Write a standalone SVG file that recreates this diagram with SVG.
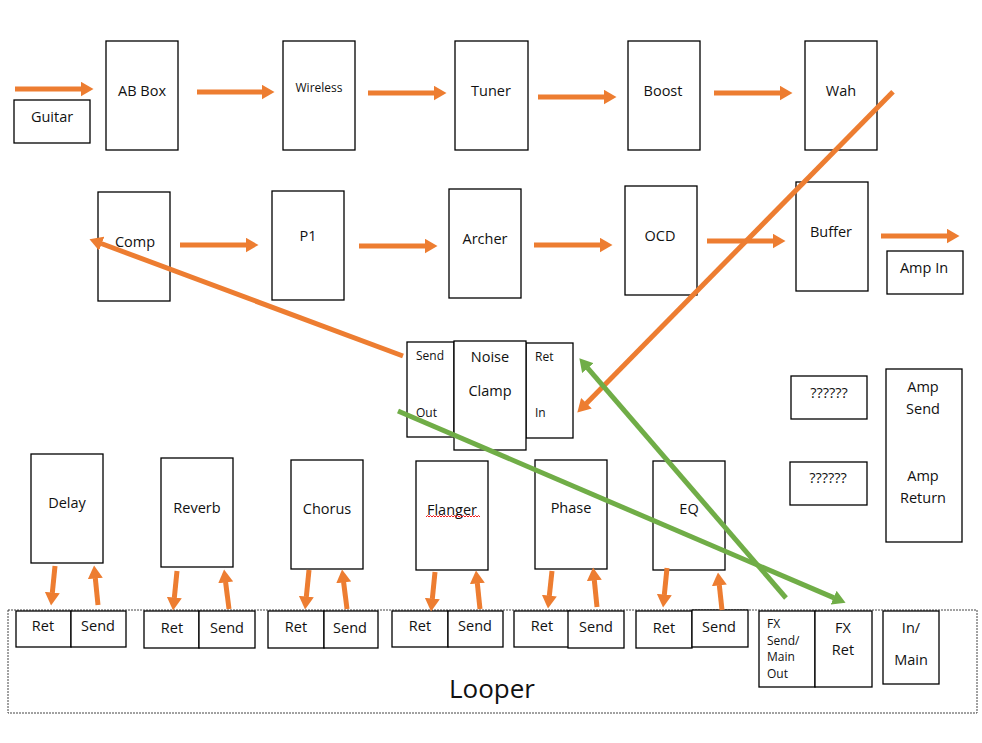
<svg xmlns="http://www.w3.org/2000/svg" width="982" height="743" viewBox="0 0 982 743">
<style>
.b{fill:#fff;stroke:#000;stroke-width:1.3}
.t{font-family:"Open Sans","Noto Sans",sans-serif;font-size:14.5px;fill:#111;text-anchor:middle}
.s{font-size:12px}
.l{text-anchor:start}
.o{stroke:#ED7D31;stroke-width:5;fill:none}
.g{stroke:#70AD47;stroke-width:5;fill:none}
</style>
<defs>
<marker id="ao" viewBox="0 0 13 15" markerWidth="13" markerHeight="15" markerUnits="userSpaceOnUse" refX="0.5" refY="7.5" orient="auto"><path d="M0,0 L13,7.5 L0,15 z" fill="#ED7D31"/></marker>
<marker id="ag" viewBox="0 0 13 15" markerWidth="13" markerHeight="15" markerUnits="userSpaceOnUse" refX="0.5" refY="7.5" orient="auto"><path d="M0,0 L13,7.5 L0,15 z" fill="#70AD47"/></marker>
</defs>
<rect width="982" height="743" fill="#fff"/>

<g id="looper">
<rect x="8" y="610" width="969" height="103" fill="#fff" stroke="#444" stroke-width="1" stroke-dasharray="2 1"/>
<text class="t" x="492" y="698" style="font-size:26px">Looper</text>
</g>

<g id="guitar"><rect class="b" x="14" y="100" width="76" height="43"/><text class="t" x="52" y="122">Guitar</text></g>
<g id="abbox"><rect class="b" x="106" y="41" width="72" height="109"/><text class="t" x="142" y="96">AB Box</text></g>
<g id="wireless"><rect class="b" x="283" y="41" width="72" height="109"/><text class="t s" x="319" y="92">Wireless</text></g>
<g id="tuner"><rect class="b" x="455" y="41" width="73" height="109"/><text class="t" x="491" y="96">Tuner</text></g>
<g id="boost"><rect class="b" x="628" y="41" width="72" height="109"/><text class="t" x="663" y="96">Boost</text></g>
<g id="wah"><rect class="b" x="805" y="41" width="72" height="109"/><text class="t" x="841" y="96">Wah</text></g>

<g id="comp"><rect class="b" x="98" y="192" width="72" height="109"/><text class="t" x="135" y="247">Comp</text></g>
<g id="p1"><rect class="b" x="272" y="191" width="72" height="109"/><text class="t" x="308" y="241">P1</text></g>
<g id="archer"><rect class="b" x="449" y="189" width="72" height="109"/><text class="t" x="485" y="244">Archer</text></g>
<g id="ocd"><rect class="b" x="625" y="186" width="72" height="109"/><text class="t" x="660" y="241">OCD</text></g>
<g id="buffer"><rect class="b" x="796" y="182" width="72" height="109"/><text class="t" x="831" y="237">Buffer</text></g>
<g id="ampin"><rect class="b" x="887" y="251" width="76" height="43"/><text class="t" x="924" y="273">Amp In</text></g>

<g id="noiseclamp">
<rect class="b" x="407" y="342" width="47" height="95"/>
<rect class="b" x="526" y="343" width="47" height="95"/>
<rect class="b" x="454" y="341" width="72" height="109"/>
<text class="t s l" x="416" y="360">Send</text>
<text class="t s l" x="416" y="417">Out</text>
<text class="t s l" x="535" y="361">Ret</text>
<text class="t s l" x="535" y="417">In</text>
<text class="t" x="490" y="362">Noise</text>
<text class="t" x="490" y="396">Clamp</text>
</g>

<g id="unknown1"><rect class="b" x="791" y="376" width="76" height="43"/><text class="t" x="829" y="398">??????</text></g>
<g id="unknown2"><rect class="b" x="790" y="462" width="77" height="43"/><text class="t" x="828" y="483">??????</text></g>
<g id="amp"><rect class="b" x="886" y="369" width="76" height="173"/>
<text class="t" x="923" y="392">Amp</text><text class="t" x="923" y="414">Send</text>
<text class="t" x="923" y="481">Amp</text><text class="t" x="923" y="503">Return</text></g>

<g id="delay"><rect class="b" x="31" y="454" width="72" height="109"/><text class="t" x="67" y="508">Delay</text></g>
<g id="reverb"><rect class="b" x="161" y="458" width="72" height="109"/><text class="t" x="197" y="513">Reverb</text></g>
<g id="chorus"><rect class="b" x="291" y="460" width="72" height="109"/><text class="t" x="327" y="514">Chorus</text></g>
<g id="flanger"><rect class="b" x="416" y="461" width="72" height="109"/><text class="t" x="452" y="515">Flanger</text>
<path d="M426,517 l1.5,-1.5 l1.5,1.5 l1.5,-1.5 l1.5,1.5 l1.5,-1.5 l1.5,1.5 l1.5,-1.5 l1.5,1.5 l1.5,-1.5 l1.5,1.5 l1.5,-1.5 l1.5,1.5 l1.5,-1.5 l1.5,1.5 l1.5,-1.5 l1.5,1.5 l1.5,-1.5 l1.5,1.5 l1.5,-1.5 l1.5,1.5 l1.5,-1.5 l1.5,1.5 l1.5,-1.5 l1.5,1.5 l1.5,-1.5 l1.5,1.5 l1.5,-1.5 l1.5,1.5 l1.5,-1.5 l1.5,1.5 l1.5,-1.5 l1.5,1.5 l1.5,-1.5 l1.5,1.5 l1.5,-1.5 l1.5,1.5" fill="none" stroke="#e00" stroke-width="0.9"/></g>
<g id="phase"><rect class="b" x="535" y="460" width="72" height="109"/><text class="t" x="571" y="513">Phase</text></g>
<g id="eq"><rect class="b" x="653" y="461" width="72" height="109"/><text class="t" x="689" y="514">EQ</text></g>

<g id="delay-io"><rect class="b" x="16" y="611" width="55" height="36"/><rect class="b" x="71" y="611" width="55" height="36"/><text class="t" x="43" y="631">Ret</text><text class="t" x="98" y="631">Send</text></g>
<g id="reverb-io"><rect class="b" x="144" y="611" width="55" height="37"/><rect class="b" x="199" y="611" width="56" height="37"/><text class="t" x="172" y="633">Ret</text><text class="t" x="227" y="633">Send</text></g>
<g id="chorus-io"><rect class="b" x="268" y="611" width="56" height="37"/><rect class="b" x="324" y="611" width="54" height="37"/><text class="t" x="296" y="632">Ret</text><text class="t" x="350" y="633">Send</text></g>
<g id="flanger-io"><rect class="b" x="392" y="611" width="56" height="36"/><rect class="b" x="448" y="611" width="55" height="36"/><text class="t" x="420" y="631">Ret</text><text class="t" x="475" y="631">Send</text></g>
<g id="phase-io"><rect class="b" x="514" y="611" width="56" height="36"/><rect class="b" x="568" y="611" width="56" height="37"/><text class="t" x="542" y="631">Ret</text><text class="t" x="596" y="632">Send</text></g>
<g id="eq-io"><rect class="b" x="636" y="611" width="56" height="37"/><rect class="b" x="692" y="610" width="56" height="37"/><text class="t" x="664" y="633">Ret</text><text class="t" x="719" y="632">Send</text></g>
<g id="fxsend"><rect class="b" x="759" y="611" width="56" height="76"/>
<text class="t s l" x="767" y="628">FX</text><text class="t s l" x="767" y="645">Send/</text><text class="t s l" x="767" y="661">Main</text><text class="t s l" x="767" y="678">Out</text></g>
<g id="fxret"><rect class="b" x="815" y="611" width="57" height="76"/><text class="t" x="843" y="633">FX</text><text class="t" x="843" y="655">Ret</text></g>
<g id="inmain"><rect class="b" x="883" y="611" width="56" height="73"/><text class="t" x="911" y="633">In/</text><text class="t" x="911" y="665">Main</text></g>

<g id="connectors">
<line class="o" x1="15" y1="89" x2="81" y2="89" marker-end="url(#ao)"/>
<line class="o" x1="197" y1="92" x2="262" y2="92" marker-end="url(#ao)"/>
<line class="o" x1="368" y1="93" x2="434" y2="93" marker-end="url(#ao)"/>
<line class="o" x1="538" y1="97" x2="604" y2="97" marker-end="url(#ao)"/>
<line class="o" x1="714" y1="93" x2="780" y2="93" marker-end="url(#ao)"/>
<line class="o" x1="180" y1="245" x2="246" y2="245" marker-end="url(#ao)"/>
<line class="o" x1="359" y1="246" x2="425" y2="246" marker-end="url(#ao)"/>
<line class="o" x1="534" y1="245" x2="600" y2="245" marker-end="url(#ao)"/>
<line class="o" x1="707" y1="241" x2="773" y2="241" marker-end="url(#ao)"/>
<line class="o" x1="881" y1="236" x2="947" y2="236" marker-end="url(#ao)"/>
<line class="o" x1="893" y1="91.7" x2="586.1" y2="403.7" marker-end="url(#ao)"/>
<line class="o" x1="403" y1="356" x2="101.2" y2="243.5" marker-end="url(#ao)"/>
<line class="g" x1="398" y1="411" x2="834.1" y2="597.9" marker-end="url(#ag)"/>
<line class="g" x1="786" y1="598" x2="587.5" y2="367.8" marker-end="url(#ag)"/>
<line class="o" x1="55" y1="566" x2="52.3" y2="593.1" marker-end="url(#ao)"/>
<line class="o" x1="98" y1="605" x2="95.3" y2="577.9" marker-end="url(#ao)"/>
<line class="o" x1="177" y1="571" x2="174.3" y2="598.1" marker-end="url(#ao)"/>
<line class="o" x1="229" y1="609" x2="225.6" y2="581.9" marker-end="url(#ao)"/>
<line class="o" x1="309" y1="570" x2="306.3" y2="597.1" marker-end="url(#ao)"/>
<line class="o" x1="347" y1="609" x2="343.6" y2="581.9" marker-end="url(#ao)"/>
<line class="o" x1="435" y1="572" x2="432.3" y2="599.1" marker-end="url(#ao)"/>
<line class="o" x1="480" y1="609" x2="477.3" y2="582.9" marker-end="url(#ao)"/>
<line class="o" x1="552" y1="571" x2="549.3" y2="596.1" marker-end="url(#ao)"/>
<line class="o" x1="597" y1="607" x2="594.3" y2="579.9" marker-end="url(#ao)"/>
<line class="o" x1="667" y1="568" x2="664.3" y2="595.1" marker-end="url(#ao)"/>
<line class="o" x1="722" y1="610" x2="719.3" y2="584.9" marker-end="url(#ao)"/>
</g>
</svg>
